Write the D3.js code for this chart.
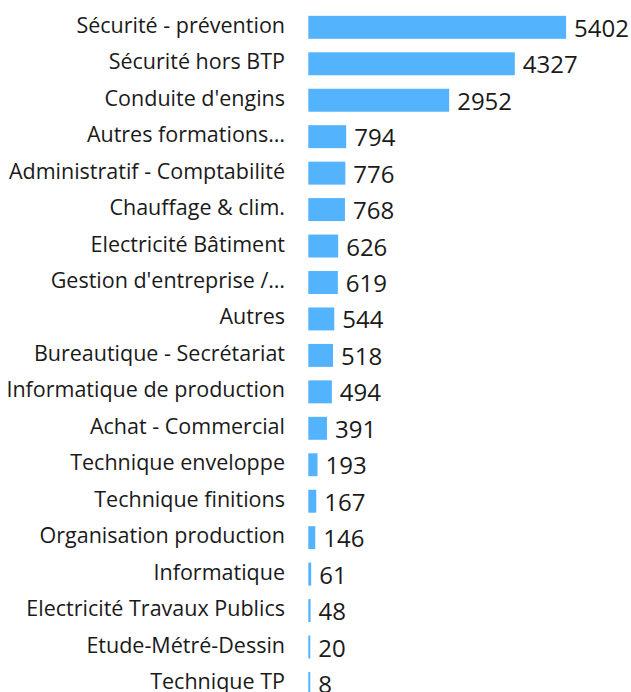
<!DOCTYPE html>
<html>
<head>
<meta charset="utf-8">
<script src="https://cdn.jsdelivr.net/npm/d3@7"></script>
<style>
  body { margin: 0; background: #fff; }
  svg { display: block; font-family: "Open Sans", sans-serif; }
</style>
</head>
<body>
<svg id="chart" width="631" height="692"></svg>
<script>
const categories = [
  "Sécurité - prévention", "Sécurité hors BTP", "Conduite d'engins", "Autres formations…",
  "Administratif - Comptabilité", "Chauffage & clim.", "Electricité Bâtiment", "Gestion d'entreprise /…",
  "Autres", "Bureautique - Secrétariat", "Informatique de production", "Achat - Commercial",
  "Technique enveloppe", "Technique finitions", "Organisation production", "Informatique",
  "Electricité Travaux Publics", "Etude-Métré-Dessin", "Technique TP"
];
const values = [5402, 4327, 2952, 794, 776, 768, 626, 619, 544, 518, 494, 391, 193, 167, 146, 61, 48, 20, 8];

const data = categories.map((c, i) => ({ name: c, value: values[i] }));

const svg = d3.select("#chart");

const x0 = 308.3;
const xScale = d3.scaleLinear()
  .domain([0, 5402])
  .range([0, 257.8]);

const yScale = d3.scaleBand()
  .domain(categories)
  .range([9.1, 701.7])
  .paddingInner(0.37)
  .paddingOuter(0.185);

const g = svg.append("g").attr("transform", `translate(${x0},0)`);

g.selectAll("rect")
  .data(data)
  .enter()
  .append("rect")
  .attr("x", 0)
  .attr("y", d => yScale(d.name))
  .attr("width", d => Math.max(2, xScale(d.value)))
  .attr("height", yScale.bandwidth())
  .attr("fill", "#53b4fd");

// values at the end of bars
g.selectAll(".val")
  .data(data)
  .enter()
  .append("text")
  .classed("val", true)
  .attr("x", d => Math.max(2, xScale(d.value)) + 8)
  .attr("y", d => yScale(d.name) + yScale.bandwidth() / 2 + 9.5)
  .attr("font-size", 24)
  .attr("fill", "#1a1a1a")
  .text(d => d.value);

// category labels
svg.append("g")
  .selectAll("text")
  .data(data)
  .enter()
  .append("text")
  .attr("x", 285)
  .attr("y", d => yScale(d.name) + yScale.bandwidth() / 2 + 5.5)
  .attr("text-anchor", "end")
  .attr("font-size", 21.5)
  .attr("fill", "#1a1a1a")
  .text(d => d.name);
</script>
</body>
</html>
